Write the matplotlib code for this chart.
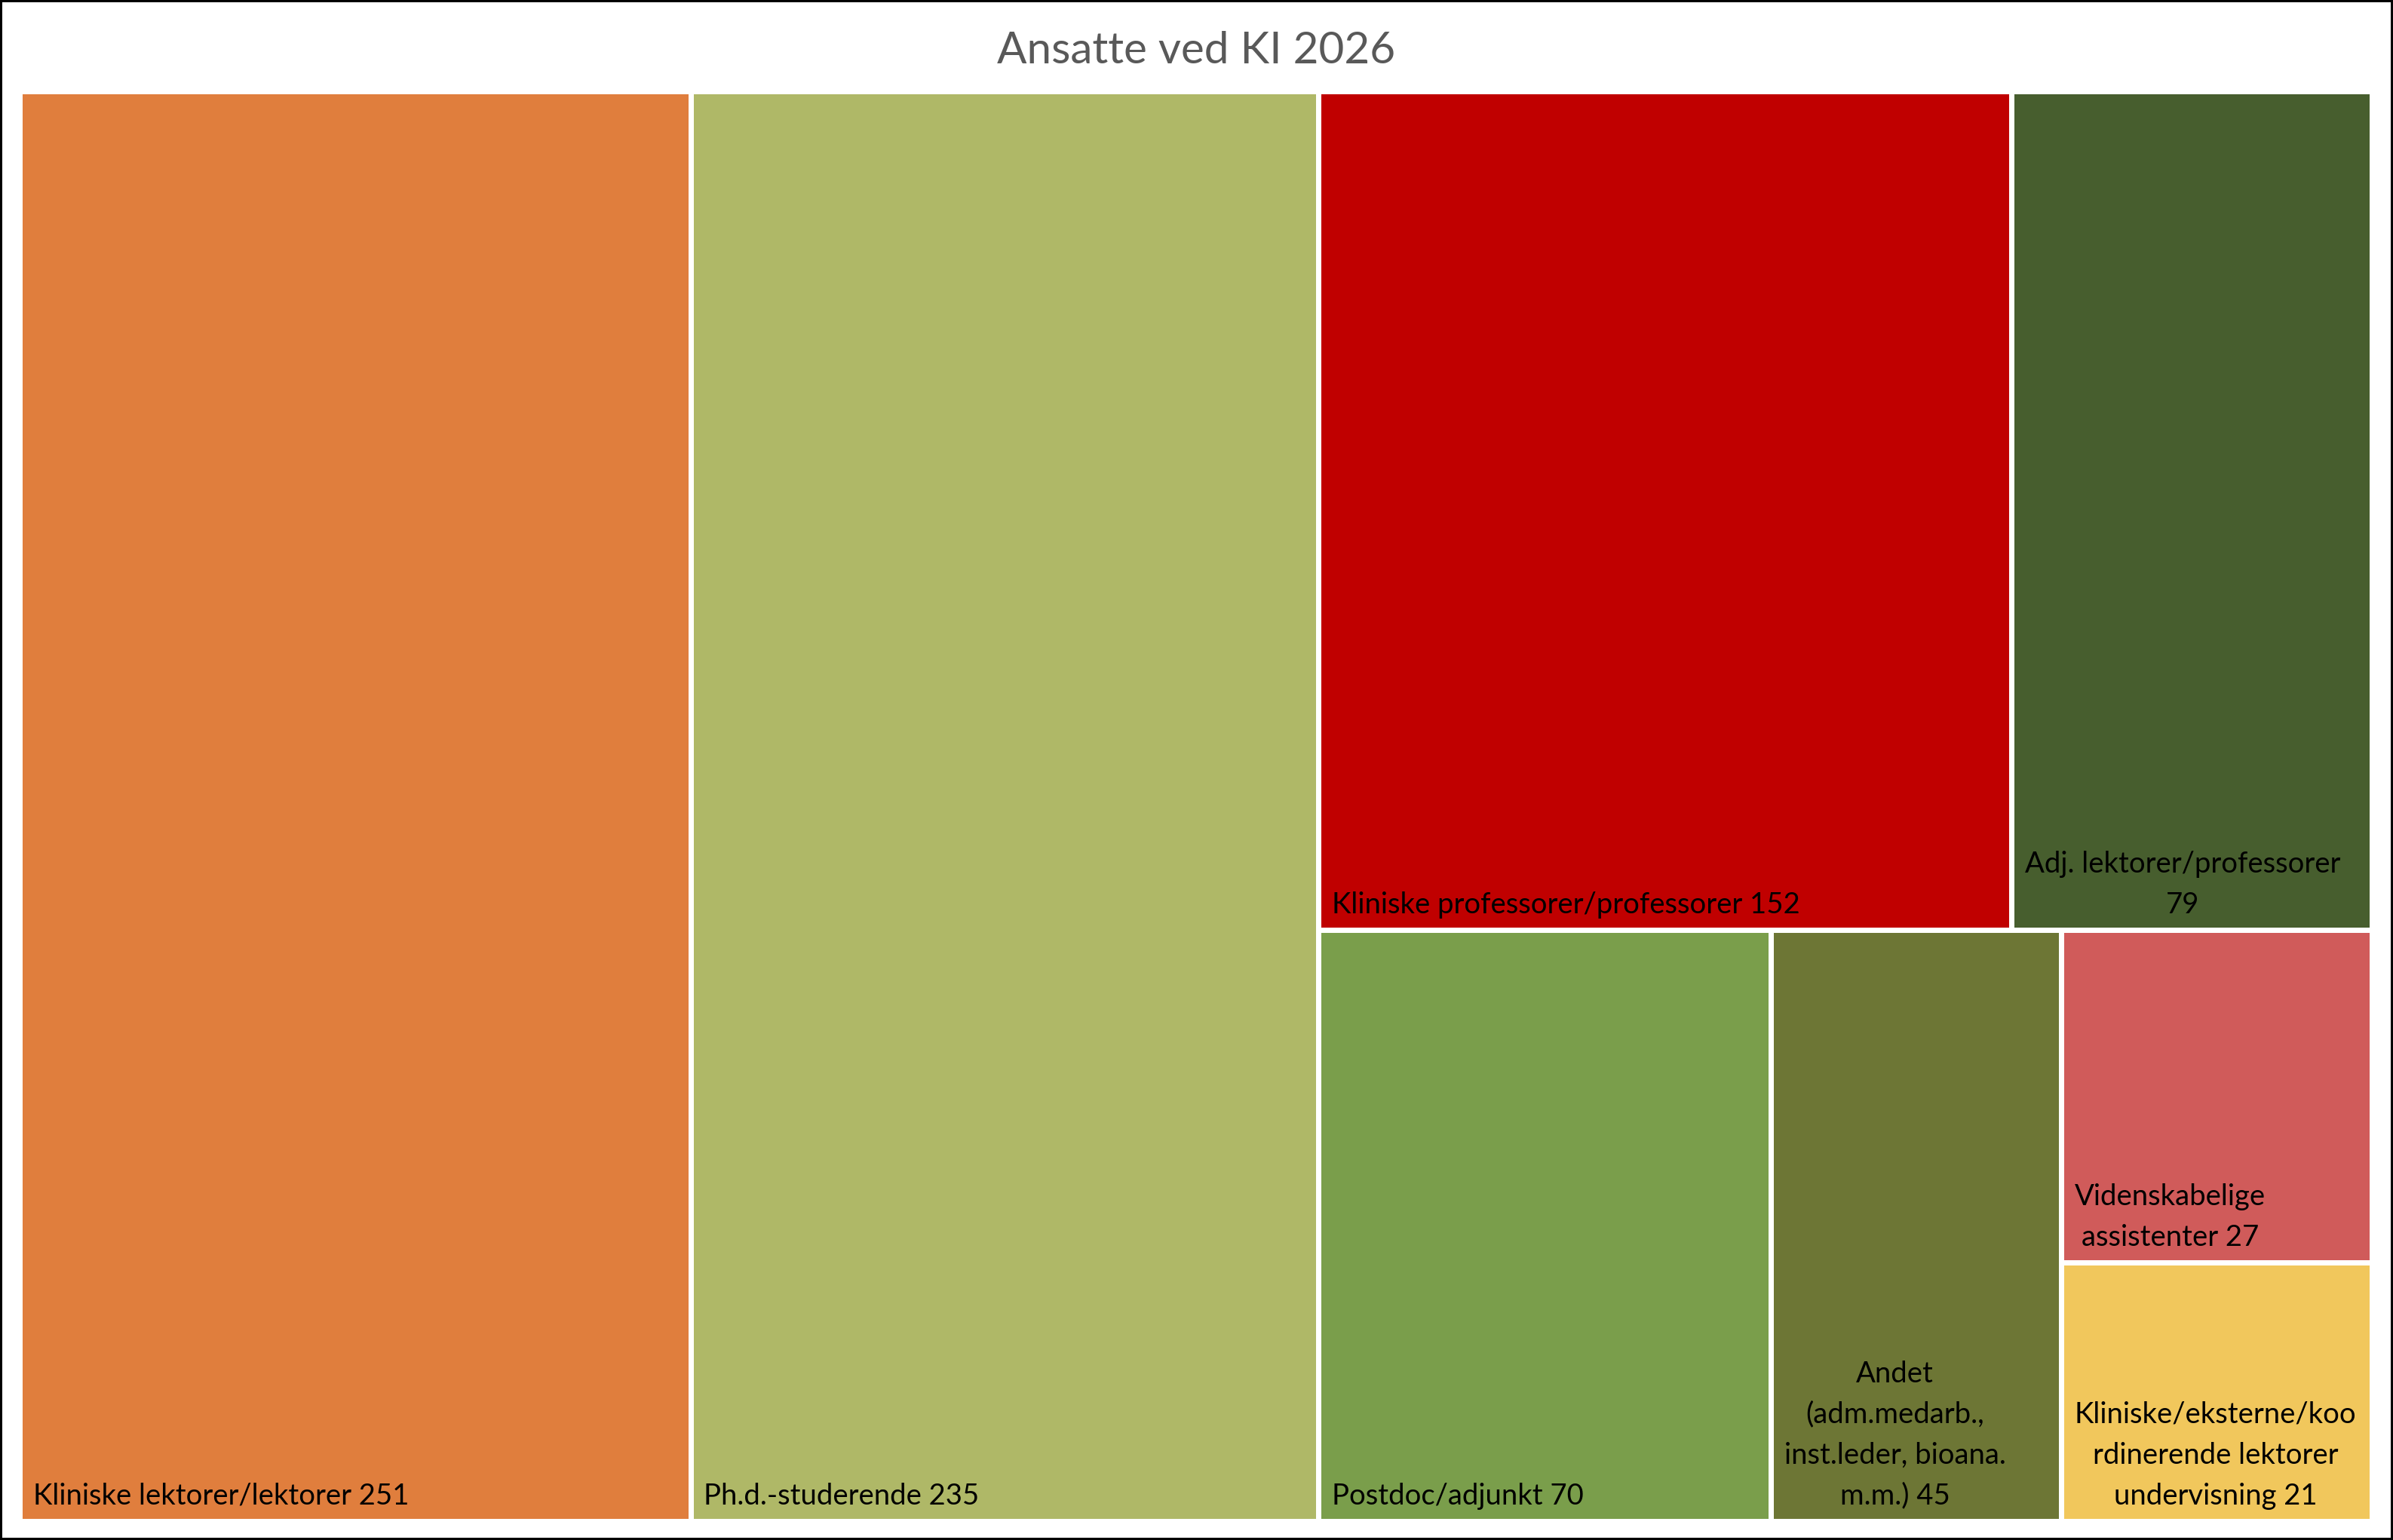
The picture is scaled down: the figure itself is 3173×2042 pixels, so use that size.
import matplotlib
matplotlib.use("Agg")
import matplotlib.pyplot as plt
from matplotlib.patches import Rectangle

# data
names = [
    "Kliniske lektorer/lektorer",
    "Ph.d.-studerende",
    "Kliniske professorer/professorer",
    "Adj. lektorer/professorer",
    "Postdoc/adjunkt",
    "Andet (adm.medarb., inst.leder, bioana. m.m.)",
    "Videnskabelige assistenter",
    "Kliniske/eksterne/koordinerende lektorer undervisning",
]
values = [251, 235, 152, 79, 70, 45, 27, 21]
colors = ["#E07E3D", "#AFB867", "#C00000", "#475E2E",
          "#7A9E4B", "#6D7635", "#D05B5A", "#F1C75C"]

# tile labels as they wrap in the original
tile_text = [
    "Kliniske lektorer/lektorer 251",
    "Ph.d.-studerende 235",
    "Kliniske professorer/professorer 152",
    "Adj. lektorer/professorer\n79",
    "Postdoc/adjunkt 70",
    "Andet\n(adm.medarb.,\ninst.leder, bioana.\nm.m.) 45",
    "Videnskabelige\nassistenter 27",
    "Kliniske/eksterne/koo\nrdinerende lektorer\nundervisning 21",
]

# nesting of the tiles: 'h' = side by side, 'v' = stacked top to bottom
tree = ("h", [0, 1, ("v", [("h", [2, 3]), ("h", [4, 5, ("v", [6, 7])])])])

W, H, DPI = 3173, 2042, 100
GAP = 7  # white gap between tiles, px


def node_sum(n):
    if isinstance(n, int):
        return values[n]
    return sum(node_sum(k) for k in n[1])


def place(n, x, y, w, h, boxes):
    if isinstance(n, int):
        boxes[n] = (x, y, w, h)
        return
    d, kids = n
    tot = node_sum(n)
    if d == "h":
        cx = x
        for k in kids:
            kw = w * node_sum(k) / tot
            place(k, cx, y, kw, h, boxes)
            cx += kw
    else:
        cy = y + h
        for k in kids:
            kh = h * node_sum(k) / tot
            cy -= kh
            place(k, x, cy, w, kh, boxes)


fig = plt.figure(figsize=(W / DPI, H / DPI), dpi=DPI)
ax = fig.add_axes([26.5 / W, 25.5 / H, 3118 / W, 1895 / H])
ax.set_xlim(0, 1)
ax.set_ylim(0, 1)
ax.axis("off")

boxes = {}
place(tree, 0, 0, 1, 1, boxes)

px = 72 / DPI
for i in range(len(values)):
    x, y, w, h = boxes[i]
    ax.add_patch(Rectangle((x, y), w, h, facecolor=colors[i], edgecolor="white",
                           linewidth=GAP * px, clip_on=False))
    ax.annotate(tile_text[i], xy=(x, y), xytext=(17.5 * px, 15 * px),
                textcoords="offset points", ha="left", va="bottom",
                multialignment="center", linespacing=1.62,
                fontsize=27.5, family="Lato", color="black")

fig.text(0.5, 1 - 67 / H, "Ansatte ved KI 2026", ha="center", va="center",
         fontsize=42, family="Lato", color="#595959")

fig.patches.append(Rectangle((0, 0), 1, 1, transform=fig.transFigure, fill=False,
                             edgecolor="black", linewidth=6 * px))

fig.savefig("out.png", dpi=DPI)
